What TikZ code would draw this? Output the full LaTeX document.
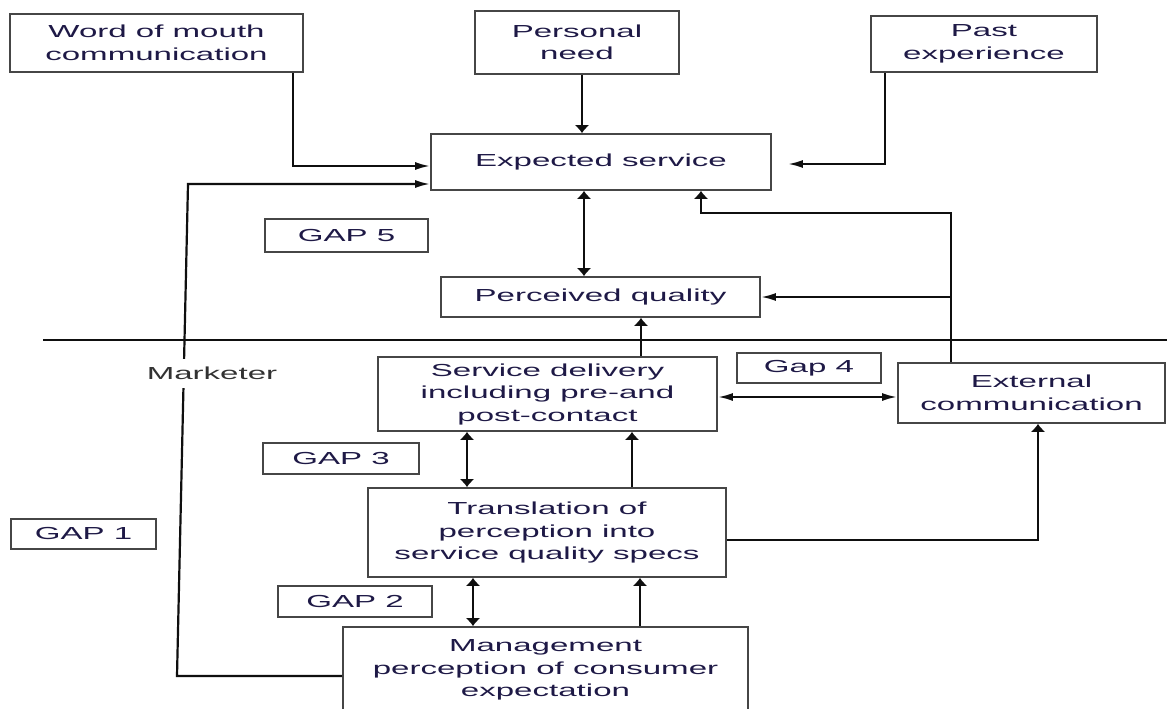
\documentclass[tikz,border=0pt]{standalone}
\usepackage{fontspec}
\setmainfont{Liberation Sans}[FakeStretch=1.9]
\usetikzlibrary{arrows.meta}
\definecolor{txt}{RGB}{30,25,70}
\definecolor{bordergray}{RGB}{70,70,70}
\definecolor{linek}{RGB}{15,15,15}
\begin{document}
\begin{tikzpicture}[x=1pt,y=-1pt,
  box/.style={draw=bordergray, line width=1.8pt, align=center, text=txt, inner sep=0pt, font=\fontsize{17.4}{22.5}\selectfont},
  conn/.style={draw=linek, line width=2.2pt},
  ha/.style={conn, -{Latex[length=15pt,width=8pt]}},
  va/.style={conn, -{Latex[length=8pt,width=15pt]}},
  vd/.style={conn, {Latex[length=8pt,width=15pt]}-{Latex[length=8pt,width=15pt]}},
  hd/.style={conn, {Latex[length=15pt,width=8pt]}-{Latex[length=15pt,width=8pt]}},
  lbl/.style={fill=white, text={rgb,255:red,50;green,50;blue,50}, inner sep=2pt, minimum height=29pt, font=\fontsize{17.4}{22.5}\selectfont}
]
\useasboundingbox (0,0) rectangle (1167,709);
\clip (0,0) rectangle (1167,709);
\fill[white] (0,0) rectangle (1167,709);

% boxes
\node[box, minimum width=293pt, minimum height=58pt] (wom) at (156.5,43) {Word of mouth\\communication};
\node[box, minimum width=204pt, minimum height=63pt] (pn) at (577,42.5) {Personal\\need};
\node[box, minimum width=226pt, minimum height=56pt] (past) at (984,44) {Past\\experience};
\node[box, minimum width=340pt, minimum height=56pt] (es) at (601,162) {Expected service};
\node[box, minimum width=163pt, minimum height=33pt] (gap5) at (346.5,235.5) {GAP 5};
\node[box, minimum width=319pt, minimum height=40pt] (pq) at (600.5,297) {Perceived quality};
\node[box, minimum width=339pt, minimum height=74pt] (sd) at (547.5,394) {Service delivery\\including pre-and\\post-contact};
\node[box, minimum width=144pt, minimum height=30pt] (gap4) at (809,368) {Gap 4};
\node[box, minimum width=267pt, minimum height=60pt] (ec) at (1031.5,393) {External\\communication};
\node[box, minimum width=156pt, minimum height=31pt] (gap3) at (341,458.5) {GAP 3};
\node[box, minimum width=358pt, minimum height=89pt] (tr) at (547,532.5) {Translation of\\perception into\\service quality specs};
\node[box, minimum width=145pt, minimum height=30pt] (gap1) at (83.5,534) {GAP 1};
\node[box, minimum width=154pt, minimum height=31pt] (gap2) at (355,601.5) {GAP 2};
\node[box, minimum width=405pt, minimum height=86pt] (mg) at (545.5,670) {Management\\perception of consumer\\expectation};

% divider line
\coordinate (d1) at (43,340);
\coordinate (d2) at (1167,340);
\draw[conn, line width=1.8pt] (d1) -- (d2);

% connectors
\coordinate (w1) at (293,166);
\draw[ha] (wom.south -| w1) -- (w1) -- (es.west |- w1);
\coordinate (n1) at (582,0);
\draw[va] (pn.south -| n1) -- (es.north -| n1);
\coordinate (p1) at (885,164);
\draw[ha, shorten >=16pt] (past.south -| p1) -- (p1) -- (es.east |- p1);

\coordinate (m1) at (177,676);
\coordinate (m2) at (188,184);
\draw[ha] (mg.west |- m1) -- (m1) -- (m2) -- (es.west |- m2);

\coordinate (e1) at (584,0);
\draw[vd] (es.south -| e1) -- (pq.north -| e1);
\coordinate (s1) at (641,0);
\draw[va] (sd.north -| s1) -- (pq.south -| s1);

\coordinate (x1) at (951,213);
\coordinate (x2) at (701,213);
\coordinate (x3) at (951,297);
\draw[va] (ec.north -| x1) -- (x1) -- (x2) -- (es.south -| x2);
\draw[ha] (x3) -- (pq.east |- x3);

\coordinate (g4) at (0,397);
\draw[hd] (sd.east |- g4) -- (ec.west |- g4);
\coordinate (g3) at (467,0);
\draw[vd] (tr.north -| g3) -- (sd.south -| g3);
\coordinate (t1) at (632,0);
\draw[va] (tr.north -| t1) -- (sd.south -| t1);
\coordinate (g2) at (473,0);
\draw[vd] (mg.north -| g2) -- (tr.south -| g2);
\coordinate (t2) at (640,0);
\draw[va] (mg.north -| t2) -- (tr.south -| t2);
\coordinate (r1) at (1038,540);
\draw[va] (tr.east |- r1) -- (r1) -- (ec.south -| r1);

\node[lbl] (mk) at (212,373) {Marketer};
\end{tikzpicture}
\end{document}
